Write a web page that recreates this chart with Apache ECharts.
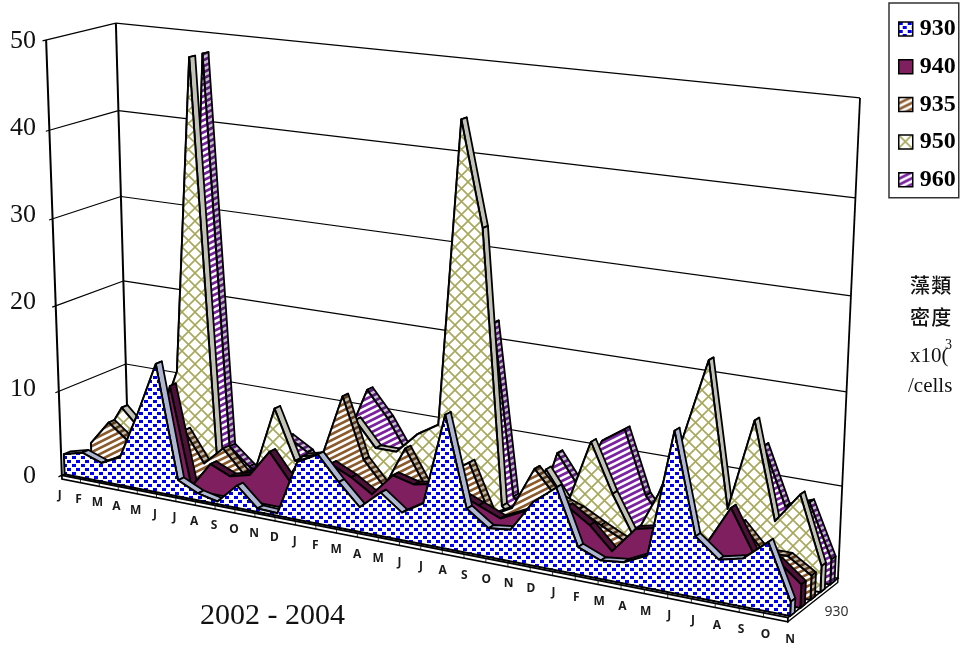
<!DOCTYPE html>
<html><head><meta charset="utf-8">
<style>html,body{margin:0;padding:0;background:#fff}#c{width:962px;height:648px}</style>
<script src="https://cdn.jsdelivr.net/npm/echarts@6/dist/echarts.min.js"></script>
</head><body><div id="c"></div>
<script>
const months=['J','F','M','A','M','J','J','A','S','O','N','D','J','F','M','A','M','J','J','A','S','O','N','D','J','F','M','A','M','J','J','A','S','O','N'];
const yTicks=[0,10,20,30,40,50];
const s930=[2.4,3.0,2.2,3.3,8.9,15,1.9,0.8,0.3,2.6,0.4,0.3,6.6,7.9,5.2,2.8,4.9,3.1,4.6,14.8,4.9,3.2,3.5,7,9,3,2,2.3,3.5,17.2,6.5,4.5,5.1,7.3,1.5];
const s940=[0,0,2,2,1.5,11.8,0.4,3.5,2.5,3.1,6.2,3.2,1,6.1,5,3.5,6.1,5.5,6,5.5,4.5,3.5,4.7,4.5,6.2,4.6,2.2,5.1,5.7,3.5,4.8,9.2,4.8,4.5,2.5];
const s935=[2.3,5.2,3.4,2.4,3.4,5.9,2.4,4.6,2.1,0.5,1.4,5.4,6,13.1,6.3,3.6,8.4,4.4,6.4,8.1,2.6,3.9,8.7,6,5.1,3.8,2.6,1,1,1,1,6.8,4.2,4.2,2.6];
const s950=[2.3,6.3,4,5.3,11.8,48,2.3,0.5,2,9.4,3.7,4.6,6.2,9.7,6.9,6.9,9.3,10.8,44.5,33.2,2.9,0.5,7.9,4.5,11.8,6.5,2.1,7.3,13.9,22.6,7.1,17,6.7,10,2.8];
const s960=[0,0,0,0,5,48,3,1,0,5.4,4,0.5,6.5,12.5,9.6,5.8,1,1,5,22.3,3.2,1,9,5.6,11.2,12.9,6,3,2,2,5,13.6,7.5,8.4,2.7];
const seriesNames=['930','940','935','950','960'];
const seriesValues=[s930,s940,s935,s950,s960];

// ---- patterns
function tile(w,h,draw){const c=document.createElement('canvas');c.width=w;c.height=h;const g=c.getContext('2d');draw(g,w,h);return c;}
function pat(c){return {image:c,repeat:'repeat'};}
function stripes(bg,fg,lw){return tile(12,6,(g,w,h)=>{g.fillStyle=bg;g.fillRect(0,0,w,h);g.strokeStyle=fg;g.lineWidth=lw;
  for(let k=-1;k<=1;k++){g.beginPath();g.moveTo(-12,h+k*6+6);g.lineTo(24,h+k*6-12);g.stroke();}
  });}
const dots=tile(9,8,(g,w,h)=>{g.fillStyle='#fff';g.fillRect(0,0,w,h);g.fillStyle='#0000f0';g.fillRect(0,0,4,3);g.fillRect(4,4,4,3);});
const lattice=tile(13,13,(g,w,h)=>{g.fillStyle='#fff';g.fillRect(0,0,w,h);g.strokeStyle='#a8a85c';g.lineWidth=1.6;
  g.beginPath();g.moveTo(-1,-1);g.lineTo(14,14);g.moveTo(14,-1);g.lineTo(-1,14);g.stroke();});
const faces=[pat(dots),'#7f1f5f',pat(stripes('#fff','#8a5a2c',2.6)),pat(lattice),pat(stripes('#fff','#7a22a0',2.8))];
const ridges=['#aeb6d2','#4c1039',pat(stripes('#c4b8a8','#5a3a1c',2.6)),'#c2c2b6',pat(stripes('#c8c0d0','#5a1a78',2.8))];

// ---- grid holding the scales
const G={left:44,top:41,width:800,height:435};

// ---- perspective: corners of the box on the page, fitted by least squares
const corners=[[0,0,0,62,475],[0,1,0,46,40],[0,0,1,128,446],[0,1,1,116,23],[1,0,0,788,618],[1,0,1,838,578],[1,1,1,860,98]];
function fit(){
  const n=11,A=[],B=[];
  corners.forEach(([u,t,z,sx,sy])=>{
    A.push([1,u,t,z,0,0,0,0,-sx*u,-sx*t,-sx*z]);B.push(sx);
    A.push([0,0,0,0,1,u,t,z,-sy*u,-sy*t,-sy*z]);B.push(sy);
  });
  const M=[];for(let i=0;i<n;i++){M[i]=[];for(let j=0;j<n;j++){let s=0;A.forEach(r=>s+=r[i]*r[j]);M[i][j]=s;}let s=0;A.forEach((r,k)=>s+=r[i]*B[k]);M[i][n]=s;}
  for(let i=0;i<n;i++){let p=i;for(let r=i+1;r<n;r++)if(Math.abs(M[r][i])>Math.abs(M[p][i]))p=r;[M[i],M[p]]=[M[p],M[i]];
    for(let r=0;r<n;r++){if(r===i)continue;const f=M[r][i]/M[i][i];for(let c=i;c<=n;c++)M[r][c]-=f*M[i][c];}}
  return M.map((r,i)=>r[n]/r[i]);
}
const H=fit();
function proj(u,t,z){const d=1+H[8]*u+H[9]*t+H[10]*z;return [(H[0]+H[1]*u+H[2]*t+H[3]*z)/d,(H[4]+H[5]*u+H[6]*t+H[7]*z)/d];}
function P(api,i,v,z){const c=api.coord([i,v]);return proj((c[0]-G.left)/G.width,(G.top+G.height-c[1])/G.height,z);}

const SLOT=0.2,ZF=0.04,THICK=0.09,STROKE='#000';
function renderSeries(k){
  return function(params,api){
    if(params.dataIndex!==0)return null;
    const n=seriesValues[k].length,zf=k*SLOT+ZF,zb=zf+THICK,kids=[];
    const vals=[];for(let i=0;i<n;i++)vals.push(api.value(1,i));
    const st={fill:ridges[k],stroke:STROKE,lineWidth:1.8,lineJoin:'round'};
    for(let i=0;i<n-1;i++){
      kids.push({type:'polygon',shape:{points:[P(api,i,vals[i],zf),P(api,i+1,vals[i+1],zf),P(api,i+1,vals[i+1],zb),P(api,i,vals[i],zb)]},style:st});
    }
    kids.push({type:'polygon',shape:{points:[P(api,n-1,0,zf),P(api,n-1,vals[n-1],zf),P(api,n-1,vals[n-1],zb),P(api,n-1,0,zb)]},style:st});
    const pts=[P(api,0,0,zf)];for(let i=0;i<n;i++)pts.push(P(api,i,vals[i],zf));pts.push(P(api,n-1,0,zf));
    kids.push({type:'polygon',shape:{points:pts},style:{fill:faces[k],stroke:STROKE,lineWidth:2,lineJoin:'round'}});
    return {type:'group',children:kids};
  };
}
function line(a,b,w){return {type:'line',shape:{x1:a[0],y1:a[1],x2:b[0],y2:b[1]},style:{stroke:'#000',lineWidth:w,fill:null}};}
function renderBox(params,api){
  if(params.dataIndex!==0)return null;
  const L=months.length-1,kids=[],top=yTicks[yTicks.length-1];
  yTicks.forEach(v=>{
    kids.push(line(P(api,0,v,-0.05),P(api,0,v,1),1.2));
    kids.push(line(P(api,0,v,1),P(api,L,v,1),1.2));
  });
  kids.push(line(P(api,0,0,0),P(api,0,top,0),2));
  kids.push(line(P(api,0,0,1),P(api,0,top,1),2));
  kids.push(line(P(api,L,0,1),P(api,L,top,1),1.8));
  // floor slab
  const lo=-0.45;
  kids.push({type:'polygon',shape:{points:[P(api,0,0,0),P(api,L,0,0),P(api,L,0,1),P(api,0,0,1)]},style:{fill:'#fff',stroke:'#000',lineWidth:1.4}});
  kids.push({type:'polygon',shape:{points:[P(api,0,0,0),P(api,L,0,0),P(api,L,lo,0),P(api,0,lo,0)]},style:{fill:'#fff',stroke:'#000',lineWidth:1.6}});
  kids.push({type:'polygon',shape:{points:[P(api,L,0,0),P(api,L,0,1),P(api,L,lo,1),P(api,L,lo,0)]},style:{fill:'#fff',stroke:'#000',lineWidth:1.4}});
  for(let i=0;i<=L;i++)kids.push(line(P(api,i,0,0),P(api,i,lo,0),0.8));
  return {type:'group',children:kids};
}
function renderLabels(params,api){
  const i=params.dataIndex,L=months.length-1,f=i/L,p=P(api,i,0,0);
  const kids=[{type:'text',style:{text:months[i],x:p[0]-2+4*f,y:p[1]+20+2*f,align:'center',verticalAlign:'middle',fill:'#1a1a1a',font:'bold 12px "Noto Sans"'}}];
  if(i===L){const q=P(api,L,0,0.5);kids.push({type:'text',style:{text:seriesNames[0],x:q[0]+23,y:q[1]+14,align:'center',verticalAlign:'middle',fill:'#333',font:'14px "Noto Sans"'}});}
  return {type:'group',children:kids};
}
const rows=a=>a.map((v,i)=>[i,v]);
const series=[
 {type:'custom',name:'box',z:1,silent:true,clip:false,renderItem:renderBox,data:rows(s930),encode:{x:0,y:1}},
 {type:'custom',name:'labels',z:20,silent:true,clip:false,renderItem:renderLabels,data:rows(s930),encode:{x:0,y:1}}
];
seriesNames.forEach((nm,k)=>series.push({type:'custom',name:nm,z:10-k,silent:true,clip:false,renderItem:renderSeries(k),
  data:rows(seriesValues[k]),encode:{x:0,y:1},itemStyle:{color:faces[k]}}));

const serif='"Liberation Serif"',cjk='"Noto Sans CJK TC"';
const chart=echarts.init(document.getElementById('c'),null,{renderer:'canvas'});
chart.setOption({
 animation:false,backgroundColor:'#fff',
 grid:{left:G.left,top:G.top,width:G.width,height:G.height},
 xAxis:{type:'category',data:months,boundaryGap:false,show:false},
 yAxis:{type:'value',min:0,max:50,interval:10,axisLine:{show:false},axisTick:{show:false},splitLine:{show:false},
   axisLabel:{margin:8,fontFamily:serif,fontSize:26,color:'#111'}},
 legend:{data:seriesNames,orient:'vertical',left:889,top:3,padding:[14,3,6,9],itemGap:13.7,itemWidth:14,itemHeight:14,icon:'rect',
   selectedMode:false,borderColor:'#333',borderWidth:1.5,backgroundColor:'#fff',
   itemStyle:{borderColor:'#000',borderWidth:1.5},
   textStyle:{fontFamily:serif,fontWeight:'bold',fontSize:24,color:'#000',padding:[0,0,0,2]}},
 tooltip:{show:false},
 graphic:[
  {type:'text',left:200,top:601,style:{text:'2002 - 2004',font:'30px '+serif,fill:'#111'}},
  {type:'text',left:910,top:275,style:{text:'藻\u200a類',font:'500 20px '+cjk,fill:'#111'}},
  {type:'text',left:910,top:307,style:{text:'密\u200a度',font:'500 20px '+cjk,fill:'#111'}},
  {type:'text',left:910,top:346,style:{text:'x10(',font:'21px '+serif,fill:'#111'}},
  {type:'text',left:945,top:338,style:{text:'3',font:'14px '+serif,fill:'#111'}},
  {type:'text',left:908,top:376,style:{text:'/cells',font:'21px '+serif,fill:'#111'}}
 ],
 series
});
</script></body></html>
